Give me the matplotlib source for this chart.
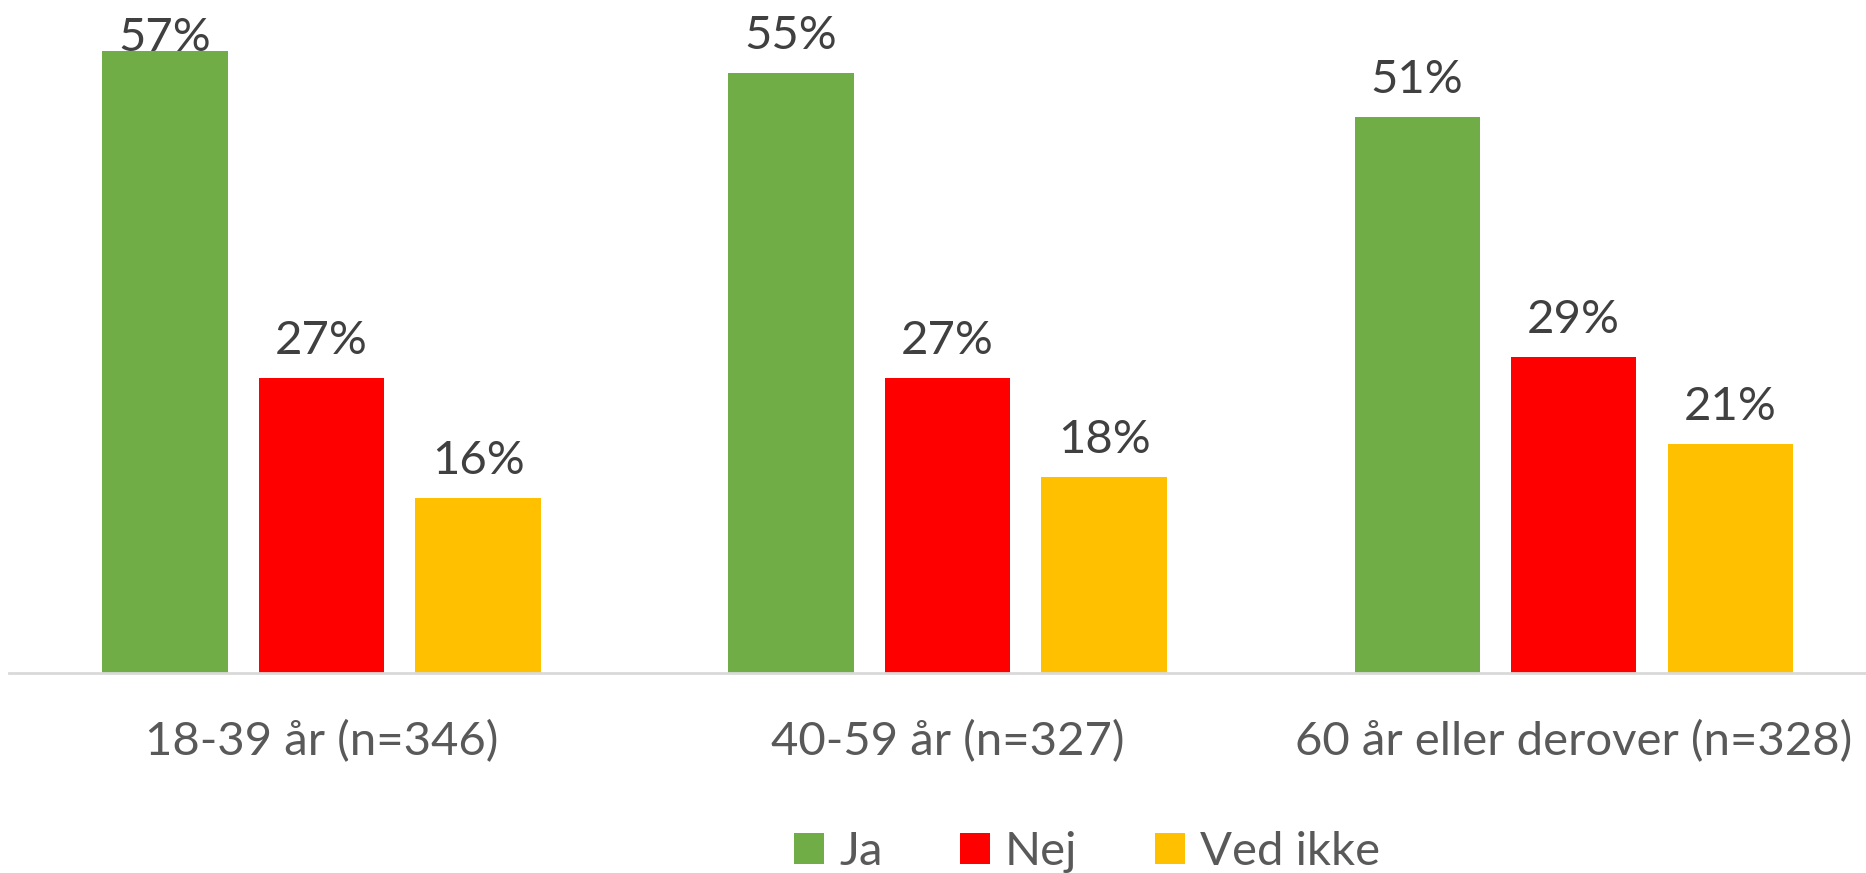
import matplotlib
matplotlib.use("Agg")
import matplotlib.pyplot as plt
import numpy as np
from matplotlib.patches import Patch

plt.rcParams["font.family"] = ["Lato", "DejaVu Sans"]

categories = ["18-39 år (n=346)", "40-59 år (n=327)", "60 år eller derover (n=328)"]
series_names = ["Ja", "Nej", "Ved ikke"]
ja = [57, 55, 51]
nej = [27, 27, 29]
ved_ikke = [16, 18, 21]
series_values = [ja, nej, ved_ikke]
colors = ["#70AD47", "#FF0000", "#FFC000"]

W, H = 1866, 873
fig = plt.figure(figsize=(W / 100, H / 100), dpi=100)
base_px = 673
ax = fig.add_axes([8.5 / W, 1 - base_px / H, 1 - 8.5 / W, base_px / H])

ymax = 61.7
x = np.arange(len(categories))
width = 0.2
step = 0.25
gap = 2.2  # label gap in data units
label_h = 3.4

for i, (vals, col) in enumerate(zip(series_values, colors)):
    pos = x + (i - 1) * step
    ax.bar(pos, vals, width=width, color=col, zorder=2)
    for px, v in zip(pos, vals):
        y = v + gap
        if y + label_h > ymax:
            y = v
        ax.text(px, y, f"{v}%", ha="center", va="baseline",
                fontsize=34, color="#404040")

ax.set_xlim(-0.5, 2.467)
ax.set_ylim(0, ymax)
ax.set_yticks([])
ax.set_xticks(x)
ax.set_xticklabels(categories, fontsize=34, color="#595959")
ax.tick_params(axis="x", length=0, pad=34)
for side in ["top", "right", "left"]:
    ax.spines[side].set_visible(False)
ax.spines["bottom"].set_color("#D9D9D9")
ax.spines["bottom"].set_linewidth(2)

handles = [Patch(facecolor=c, edgecolor="none") for c in colors]
fig.legend(handles, series_names, loc="center", ncol=3,
           bbox_to_anchor=(1087 / W, 1 - 852 / H), frameon=False,
           fontsize=34, labelcolor="#595959", handlelength=0.64,
           handleheight=0.64, handletextpad=0.32, columnspacing=1.63)

fig.savefig("out.png", dpi=100)
